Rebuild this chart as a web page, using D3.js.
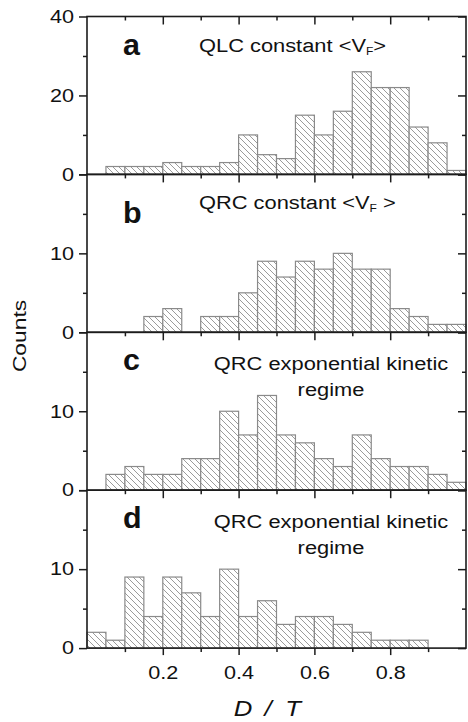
<!DOCTYPE html>
<html><head><meta charset="utf-8">
<script src="https://cdn.jsdelivr.net/npm/d3@7"></script>
<style>
body{margin:0;background:#fff}
svg{display:block}
text{font-family:"Liberation Sans",Arial,sans-serif;fill:#111}
</style>
</head><body>
<svg id="chart" width="468" height="722"></svg>
<script>
// ---- data ----
const binStarts = [0,0.05,0.1,0.15,0.2,0.25,0.3,0.35,0.4,0.45,0.5,0.55,0.6,0.65,0.7,0.75,0.8,0.85,0.9,0.95];
const binWidth = 0.05;
const countsA = [0,2,2,2,3,2,2,3,10,5,4,15,10,16,26,22,22,12,8,1];
const countsB = [0,0,0,2,3,0,2,2,5,9,7,9,8,10,8,8,3,2,1,1];
const countsC = [0,2,3,2,2,4,4,10,7,12,7,6,4,3,7,4,3,3,2,1];
const countsD = [2,1,9,4,9,7,4,10,4,6,3,4,4,3,2,1,1,1,0,0];
const panelLetters = ["a","b","c","d"];
const titleA = ["QLC constant <V{F}>"];
const titleB = ["QRC constant <V{F} >"];
const titleC = ["QRC exponential kinetic","regime"];
const titleD = ["QRC exponential kinetic","regime"];
const yMaxes = [40,20,20,20];
const yMajorTicks = [[0,20,40],[0,10,20],[0,10,20],[0,10,20]];
const yMinorTicks = [[10,30],[5,15],[5,15],[5,15]];
const yTickLabels = [["0","20","40"],["0","10"],["0","10"],["0","10"]];
const xMajorTicks = [0.2,0.4,0.6,0.8];
const xMinorTicks = [0.1,0.3,0.5,0.7,0.9];
const xTickLabels = ["0.2","0.4","0.6","0.8"];
const yTitle = "Counts";
const xTitleParts = ["D","/","T"];

// ---- layout ----
const svg = d3.select("#chart");
const left = 87, right = 466, top0 = 16.5, panelH = 157.9;
const stretch = 1.2;
const axisColor = "#1c1c1c";

const defs = svg.append("defs");
const pat = defs.append("pattern").attr("id","hatch").attr("patternUnits","userSpaceOnUse")
  .attr("width",6).attr("height",6);
pat.append("rect").attr("width",6).attr("height",6).attr("fill","#fff");
pat.append("path").attr("d","M-1,-1 L7,7 M-1,5 L1,7 M5,-1 L7,1")
  .attr("stroke","#909090").attr("stroke-width",0.9);

const x = d3.scaleLinear().domain([0,1]).range([left,right]);
const allCounts = [countsA,countsB,countsC,countsD];
const allTitles = [titleA,titleB,titleC,titleD];

function stretchText(sel, k){
  sel.each(function(){
    const w = this.getComputedTextLength();
    d3.select(this).attr("textLength", w*k).attr("lengthAdjust","spacingAndGlyphs");
  });
}

function addRich(textSel, str){
  const parts = str.split(/(\{[^}]*\})/).filter(p=>p);
  let shift = 0;
  parts.forEach(p=>{
    if(p.startsWith("{")){
      textSel.append("tspan").attr("font-size","0.55em").attr("dy",3).text(p.slice(1,-1));
      shift = -3;
    } else {
      textSel.append("tspan").attr("dy",shift).text(p);
      shift = 0;
    }
  });
}

allCounts.forEach((counts,i)=>{
  const top = top0 + i*panelH, bottom = top + panelH;
  const y = d3.scaleLinear().domain([0,yMaxes[i]]).range([bottom,top]);
  const g = svg.append("g");
  const data = binStarts.map((b,j)=>({b, c:counts[j]})).filter(d=>d.c>0);
  g.selectAll("rect.bar").data(data).join("rect").attr("class","bar")
    .attr("x",d=>x(d.b)).attr("width",d=>x(d.b+binWidth)-x(d.b))
    .attr("y",d=>y(d.c)).attr("height",d=>y(0)-y(d.c))
    .attr("fill","url(#hatch)").attr("stroke","#8a8a8a").attr("stroke-width",1.2);

  g.append("g").attr("transform",`translate(${left},0)`)
    .call(d3.axisLeft(y).tickValues(yMajorTicks[i]).tickSize(8).tickPadding(5)
      .tickFormat(v=>{const idx=yMajorTicks[i].indexOf(v); return yTickLabels[i][idx]||"";}));
  g.append("g").attr("transform",`translate(${left},0)`)
    .call(d3.axisLeft(y).tickValues(yMinorTicks[i]).tickSize(4).tickFormat(""));
  g.append("g").attr("transform",`translate(${right},0)`)
    .call(d3.axisRight(y).tickValues(yMajorTicks[i]).tickSize(-8).tickFormat(""));
  g.append("g").attr("transform",`translate(${right},0)`)
    .call(d3.axisRight(y).tickValues(yMinorTicks[i]).tickSize(-4).tickFormat(""));
  g.append("g").attr("transform",`translate(0,${top})`)
    .call(d3.axisBottom(x).tickValues(xMajorTicks).tickSize(8).tickFormat(""));
  g.append("g").attr("transform",`translate(0,${top})`)
    .call(d3.axisBottom(x).tickValues(xMinorTicks).tickSize(4).tickFormat(""));
  if(i===3){
    g.append("g").attr("transform",`translate(0,${bottom})`)
      .call(d3.axisBottom(x).tickValues(xMajorTicks).tickSize(7).tickPadding(11)
        .tickFormat((v,k)=>xTickLabels[k]));
    g.append("g").attr("transform",`translate(0,${bottom})`)
      .call(d3.axisBottom(x).tickValues(xMinorTicks).tickSize(4).tickFormat(""));
  }
  g.append("rect").attr("x",left).attr("y",top).attr("width",right-left).attr("height",panelH)
    .attr("fill","none").attr("stroke",axisColor).attr("stroke-width",1.6);

  g.append("text").attr("transform",`translate(123,${top + (i===1?49:38)}) scale(1.05,1)`)
    .attr("font-weight","bold").attr("font-size",29).text(panelLetters[i]);

  const lines = allTitles[i];
  if(lines.length===1){
    const t = g.append("text").attr("transform",`translate(199,${top+35}) scale(1.15,1)`)
      .attr("font-size",19);
    addRich(t, lines[0]);
  } else {
    lines.forEach((ln,k)=>{
      g.append("text").attr("transform",`translate(331,${top+38+k*26}) scale(1.15,1)`)
        .attr("text-anchor","middle").attr("font-size",19).text(ln);
    });
  }
});

svg.selectAll(".domain").remove();
svg.selectAll(".tick line").attr("stroke",axisColor).attr("stroke-width",1.5);
svg.selectAll(".tick text").attr("font-size",18).attr("fill","#111")
  .style("font-family","Liberation Sans, Arial, sans-serif");
svg.selectAll(".tick text").filter(function(){return this.textContent.length===0;}).remove();
stretchText(svg.selectAll(".tick text"), stretch);

const yt = svg.append("text").attr("transform","translate(26,336) rotate(-90)")
  .attr("text-anchor","middle").attr("font-size",19).text(yTitle);
stretchText(yt, stretch);

const xPos = [243,268,293];
xTitleParts.forEach((p,k)=>{
  svg.append("text").attr("transform",`translate(${xPos[k]},716) scale(1.12,1)`)
    .attr("text-anchor","middle").attr("font-style","italic").attr("font-size",23).text(p);
});
</script>
</body></html>
